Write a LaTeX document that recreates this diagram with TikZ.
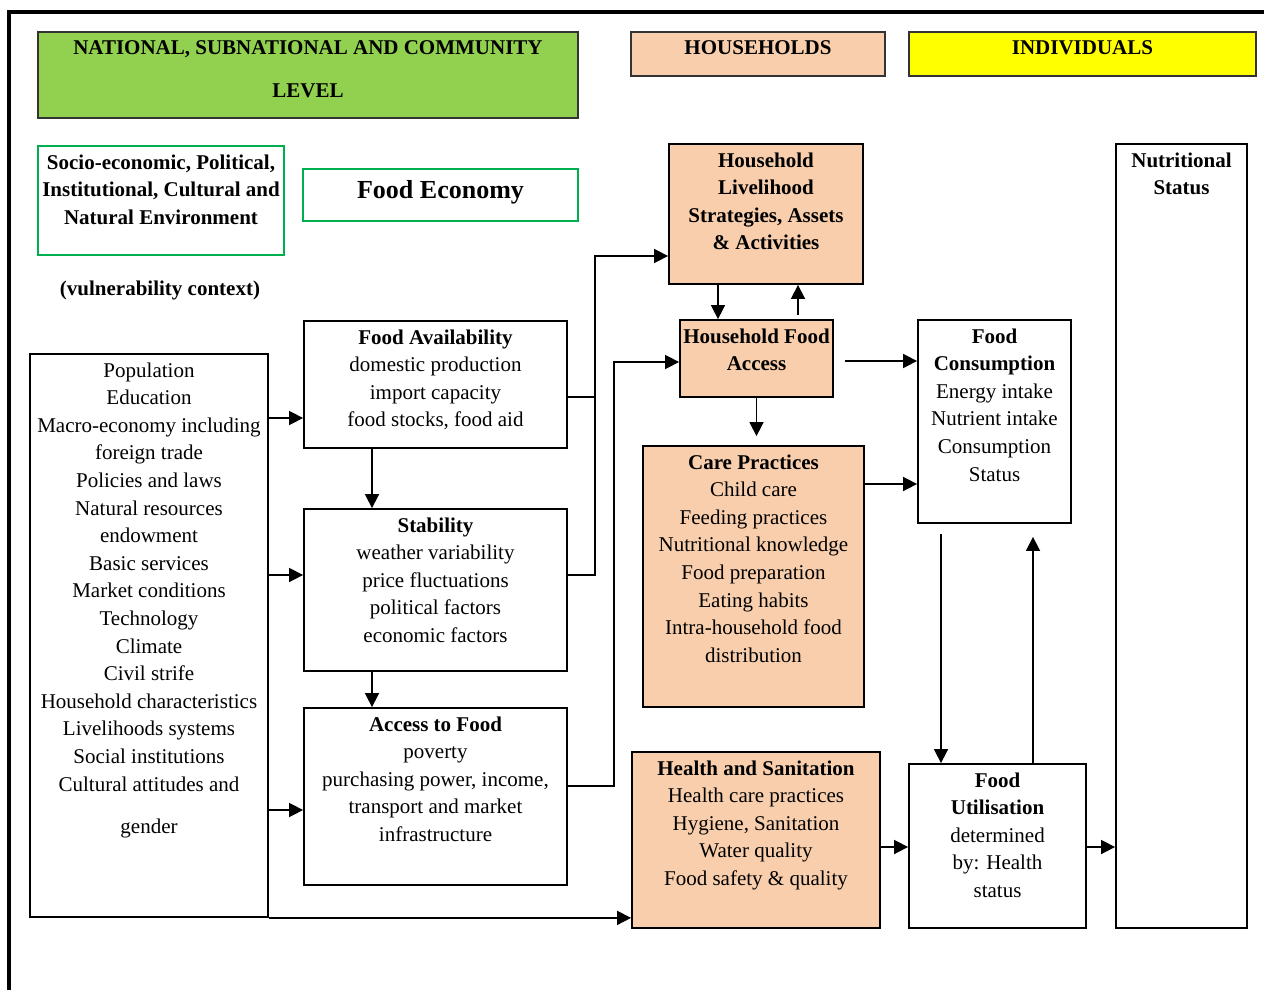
\documentclass[tikz,border=0pt]{standalone}
\usepackage{fontspec}
\setmainfont{Liberation Serif}
\usetikzlibrary{arrows.meta,fit}

\definecolor{levelgreen}{RGB}{146,208,80}
\definecolor{hhpeach}{RGB}{248,206,172}
\definecolor{indyellow}{RGB}{255,255,0}
\definecolor{envgreen}{RGB}{0,176,80}

\newcommand{\boxfont}{\fontsize{10.5}{13.8}\selectfont}

\tikzset{
  box/.style={draw, line width=0.9pt, inner sep=0pt},
  hbox/.style={box, draw=black!80},
  intext/.style={anchor=north, align=center, inner sep=0pt, yshift=-4.5pt, font=\boxfont},
  arr/.style={line width=0.8pt, -{Triangle[length=7pt,width=7pt]}},
  link/.style={line width=0.8pt},
}

\begin{document}
\begin{tikzpicture}[x=0.5pt,y=-0.5pt]
\useasboundingbox (0,0) rectangle (1264,990);
% frame
\draw[line width=2pt] (9,990) -- (9,12) -- (1264,12);

% level headers
\node[hbox, fill=levelgreen, fit={(38,32) (578,118)},
  label={[intext, font=\boxfont\bfseries]north:{NATIONAL, SUBNATIONAL AND COMMUNITY\\[7.5pt]LEVEL}}] (national) {};
\node[hbox, fill=hhpeach, fit={(631,32) (885,76)},
  label={[intext, font=\boxfont\bfseries]north:{HOUSEHOLDS}}] (households) {};
\node[hbox, fill=indyellow, fit={(909,32) (1256,76)},
  label={[intext, font=\boxfont\bfseries]north:{INDIVIDUALS}}] (individuals) {};

% context
\node[box, draw=envgreen, fit={(38,146) (284,255)},
  label={[intext, font=\boxfont\bfseries]north:{Socio-economic, Political,\\Institutional, Cultural and\\Natural Environment}}] (socio) {};
\node[box, draw=envgreen, fit={(303,169) (578,221)},
  label={[intext, yshift=-1.5pt, font=\fontsize{13}{15}\selectfont\bfseries]north:{Food Economy}}] (economy) {};
\node[font=\boxfont\bfseries] (vuln) at (160,290) {(vulnerability context)};

\node[box, fit={(30,354) (268,917)},
  label={[intext]north:{Population\\Education\\Macro-economy including\\foreign trade\\Policies and laws\\Natural resources\\endowment\\Basic services\\Market conditions\\Technology\\Climate\\Civil strife\\Household characteristics\\Livelihoods systems\\Social institutions\\Cultural attitudes and\\[7.5pt]gender}}] (factors) {};

% food economy
\node[box, fit={(304,321) (567,448)},
  label={[intext]north:{\textbf{Food Availability}\\domestic production\\import capacity\\food stocks, food aid}}] (fa) {};
\node[box, fit={(304,509) (567,671)},
  label={[intext]north:{\textbf{Stability}\\weather variability\\price fluctuations\\political factors\\economic factors}}] (stab) {};
\node[box, fit={(304,708) (567,885)},
  label={[intext]north:{\textbf{Access to Food}\\poverty\\purchasing power, income,\\transport and market\\infrastructure}}] (access) {};

% households
\node[box, fill=hhpeach, fit={(669,144) (863,284)},
  label={[intext, font=\boxfont\bfseries]north:{Household\\Livelihood\\Strategies, Assets\\\& Activities}}] (livelihood) {};
\node[box, fill=hhpeach, fit={(680,320) (833,397)},
  label={[intext, font=\boxfont\bfseries]north:{Household Food\\Access}}] (hhaccess) {};
\node[box, fill=hhpeach, fit={(643,446) (864,707)},
  label={[intext]north:{\textbf{Care Practices}\\Child care\\Feeding practices\\Nutritional knowledge\\Food preparation\\Eating habits\\Intra-household food\\distribution}}] (care) {};
\node[box, fill=hhpeach, fit={(632,752) (880,928)},
  label={[intext]north:{\textbf{Health and Sanitation}\\Health care practices\\Hygiene, Sanitation\\Water quality\\Food safety \& quality}}] (health) {};

% individuals
\node[box, fit={(918,320) (1071,523)},
  label={[intext]north:{\textbf{Food}\\\textbf{Consumption}\\Energy intake\\Nutrient intake\\Consumption\\Status}}] (consumption) {};
\node[box, fit={(909,764) (1086,928)},
  label={[intext]north:{\textbf{Food}\\\textbf{Utilisation}\\determined\\by: Health\\status}}] (utilisation) {};
\node[box, fit={(1116,144) (1247,928)},
  label={[intext, font=\boxfont\bfseries]north:{Nutritional\\Status}}] (status) {};

% connectors
\draw[arr] (factors.east |- 0,418) -- (fa.west |- 0,418);
\draw[arr] (factors.east |- 0,575) -- (stab.west |- 0,575);
\draw[arr] (factors.east |- 0,810) -- (access.west |- 0,810);
\draw[arr] (factors.south east) -- (health.west |- factors.south);
\draw[arr] ([xshift=-31.75pt]fa.south) -- ([xshift=-31.75pt]stab.north);
\draw[arr] ([xshift=-31.75pt]stab.south) -- ([xshift=-31.75pt]access.north);
\draw[link] (fa.east |- 0,397) -- ++(27,0) coordinate (join);
\draw[link] (stab.east |- 0,575) -| (join);
\draw[arr] (join) |- (livelihood.west |- 0,256);
\draw[arr] (access.east |- 0,786) -- ++(46,0) |- (hhaccess.west |- 0,362);
\draw[arr] ([xshift=-24pt]livelihood.south) -- ([xshift=-24pt]livelihood.south |- hhaccess.north);
\draw[arr, shorten <=2pt] ([xshift=16pt]livelihood.south |- hhaccess.north) -- ([xshift=16pt]livelihood.south);
\draw[arr, shorten <=5.5pt] (hhaccess.east |- 0,361) -- (consumption.west |- 0,361);
\draw[arr, shorten >=4.5pt] (hhaccess.south) -- (hhaccess.south |- care.north);
\draw[arr] (care.east |- 0,484) -- (consumption.west |- 0,484);
\draw[arr, shorten <=5pt] ([xshift=-26.75pt]consumption.south) -- ([xshift=-26.75pt]consumption.south |- utilisation.north);
\draw[arr, shorten >=6.5pt] ([xshift=19.25pt]consumption.south |- utilisation.north) -- ([xshift=19.25pt]consumption.south);
\draw[arr] (health.east |- 0,847) -- (utilisation.west |- 0,847);
\draw[arr] (utilisation.east |- 0,847) -- (status.west |- 0,847);
\end{tikzpicture}
\end{document}
